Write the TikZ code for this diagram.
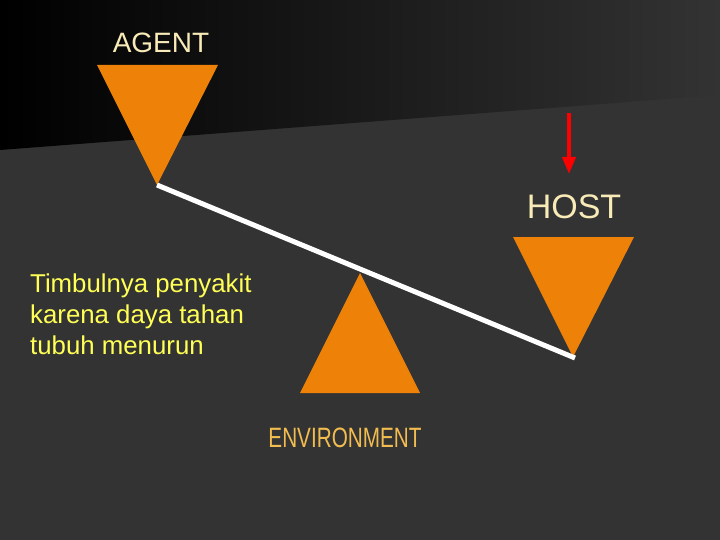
\documentclass[tikz,border=0pt]{standalone}
\usepackage{fontspec}
\setmainfont{Liberation Sans}
\usepackage{graphicx}
\usepackage{tikz}
\usetikzlibrary{arrows.meta, positioning}

\definecolor{bgdark}{HTML}{333333}
\definecolor{wedge}{HTML}{EE8208}
\definecolor{cream}{HTML}{F8EBB8}
\definecolor{gold}{HTML}{F2BC50}
\definecolor{note}{HTML}{FFFF55}

\begin{document}
\begin{tikzpicture}[x=1pt, y=-1pt,
    tri/.style={fill=wedge},
    title/.style={text=cream, font=\fontsize{28}{28}\selectfont, inner sep=0pt},
    beam/.style={draw=white, line width=5pt},
    push/.style={draw=red, line width=4pt, -{Triangle[width=13pt, length=17pt]}}]
    % Background
    \useasboundingbox (0,0) rectangle (720,540);
    \fill[bgdark] (0,0) rectangle (720,540);
    \shade[left color=black, right color=bgdark] (0,0) -- (720,0) -- (720,95) -- (0,150) -- cycle;

    % AGENT wedge
    \node[title] (agent) at (161,43) {AGENT};
    \fill[tri] (97,65) -- (218,65) -- (157,185) coordinate (agenttip) -- cycle;

    % HOST wedge
    \coordinate (pushtop) at (569,113);
    \coordinate (pushend) at (569,174);
    \draw[push] (pushtop) -- (pushend);
    \node[title, font=\fontsize{34}{34}\selectfont] (host) at (574,207) {HOST};
    \fill[tri] (513,237) -- (634,237) -- (573,357) coordinate (hosttip) -- cycle;

    % ENVIRONMENT (pivot)
    \fill[tri] (360,273) coordinate (pivot) -- (420,393) -- (300,393) -- cycle;
    \node[title, text=gold, font=\fontsize{28}{28}\selectfont] (environment) at (345,438) {\scalebox{0.74}[1]{ENVIRONMENT}};

    % Beam
    \draw[beam] (agenttip) -- (575,358);

    % Note (base = last line)
    \node[text=note, font=\fontsize{25.8}{31}\selectfont, align=left, anchor=base west, inner sep=0pt] (note) at (30,354) {Timbulnya penyakit\\karena daya tahan\\tubuh menurun};
\end{tikzpicture}
\end{document}
